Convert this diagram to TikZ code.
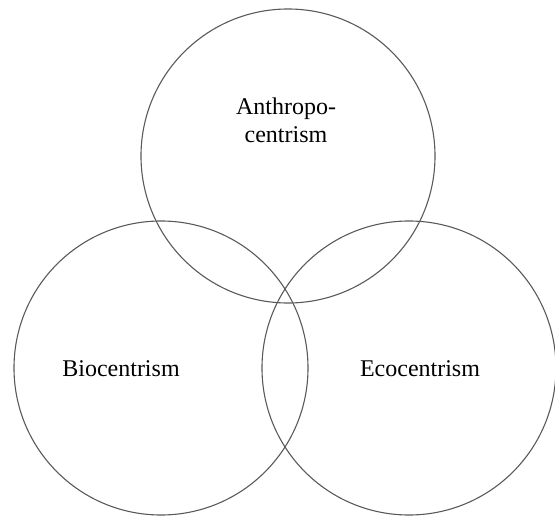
\documentclass[tikz,border=0pt]{standalone}
\usepackage{fontspec}
\setmainfont{Liberation Serif}
\usetikzlibrary{positioning}

\begin{document}
\begin{tikzpicture}[x=1pt,y=-1pt,set/.style={circle,draw=black!65,line width=1.1pt,minimum size=294pt,inner sep=0pt},lbl/.style={font=\fontsize{24}{28}\selectfont,align=center}]
                \useasboundingbox (0,0) rectangle (555,521);
                \node[set] (anthro) at (288,156) {};
                \node[set] (bio) at (161,368) {};
                \node[set] (eco) at (409,368) {};
                \node[lbl] (anthrotext) at (286,120) {Anthropo-\\centrism};
                \node[lbl] (biotext) at (121,369) {Biocentrism};
                \node[lbl] (ecotext) at (420,369) {Ecocentrism};
            \end{tikzpicture}
\end{document}
